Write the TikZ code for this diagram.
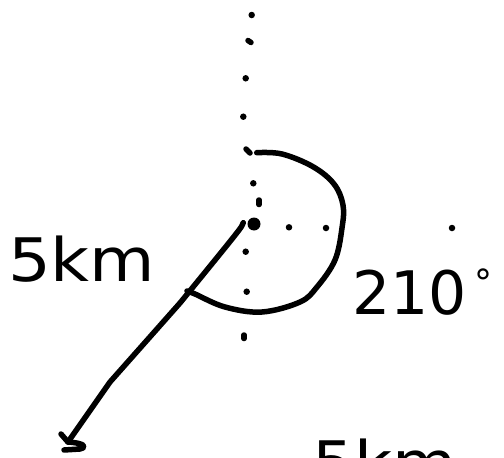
\documentclass[tikz,border=0pt]{standalone}
\usepackage{fontspec}
\setmainfont{DejaVu Sans}
\begin{document}
\begin{tikzpicture}[x=1pt,y=-1pt,
  pen/.style={line width=5.5pt,line cap=round,line join=round},
  dotmark/.style={fill=black,circle,inner sep=0pt,minimum size=6.5pt},
  hand/.style={font=\fontsize{60}{60}\selectfont,inner sep=0pt}]
\clip (0,0) rectangle (504,458);
\fill[white] (0,0) rectangle (504,458);
% dotted axes
\foreach \p in {(251.7,15),(245.7,78.3),(243.3,116.7),(253.3,183.3),(245.7,251.7),(246.7,291.7),(289,227.3),(326,228),(452,228)}
  \node[dotmark] at \p {};
\draw[pen] (248,40.5) -- (251,42.5);
\draw[pen] (246,149) -- (250,153);
\draw[pen] (259,200) -- (259,204.5);
\draw[pen] (244,335) -- (244,338.5);
\coordinate (O) at (254,224);
\fill (O) circle (6.5pt);
% angle arc
\draw[pen] plot[smooth,tension=0.6] coordinates {(256.7,152.7) (282,154) (313,166.7) (334,184) (343,205) (342,228) (335,260) (317,287) (300,302) (262,312) (225,307) (195,294) (187,291)};
% displacement line
\coordinate (T) at (68,442);
\draw[pen] (243.3,222.7) .. controls (242,227) .. (180,303) -- (110,382) -- (T);
\draw[pen] (61,434) -- (T);
\draw[pen] (64,450) -- (80,449) .. controls (88,447) and (84,443) .. (T);
% labels
\node[hand,anchor=south west,xscale=1.12] (d) at (8,283) {5km};
\node[hand,anchor=south west] (a) at (352,316) {210};
\node[hand,anchor=south west,font=\fontsize{36}{36}\selectfont] (deg) at (474,296) {°};
\node[hand,anchor=north west,xscale=1.1] (d2) at (312,439) {5km};
\end{tikzpicture}
\end{document}
